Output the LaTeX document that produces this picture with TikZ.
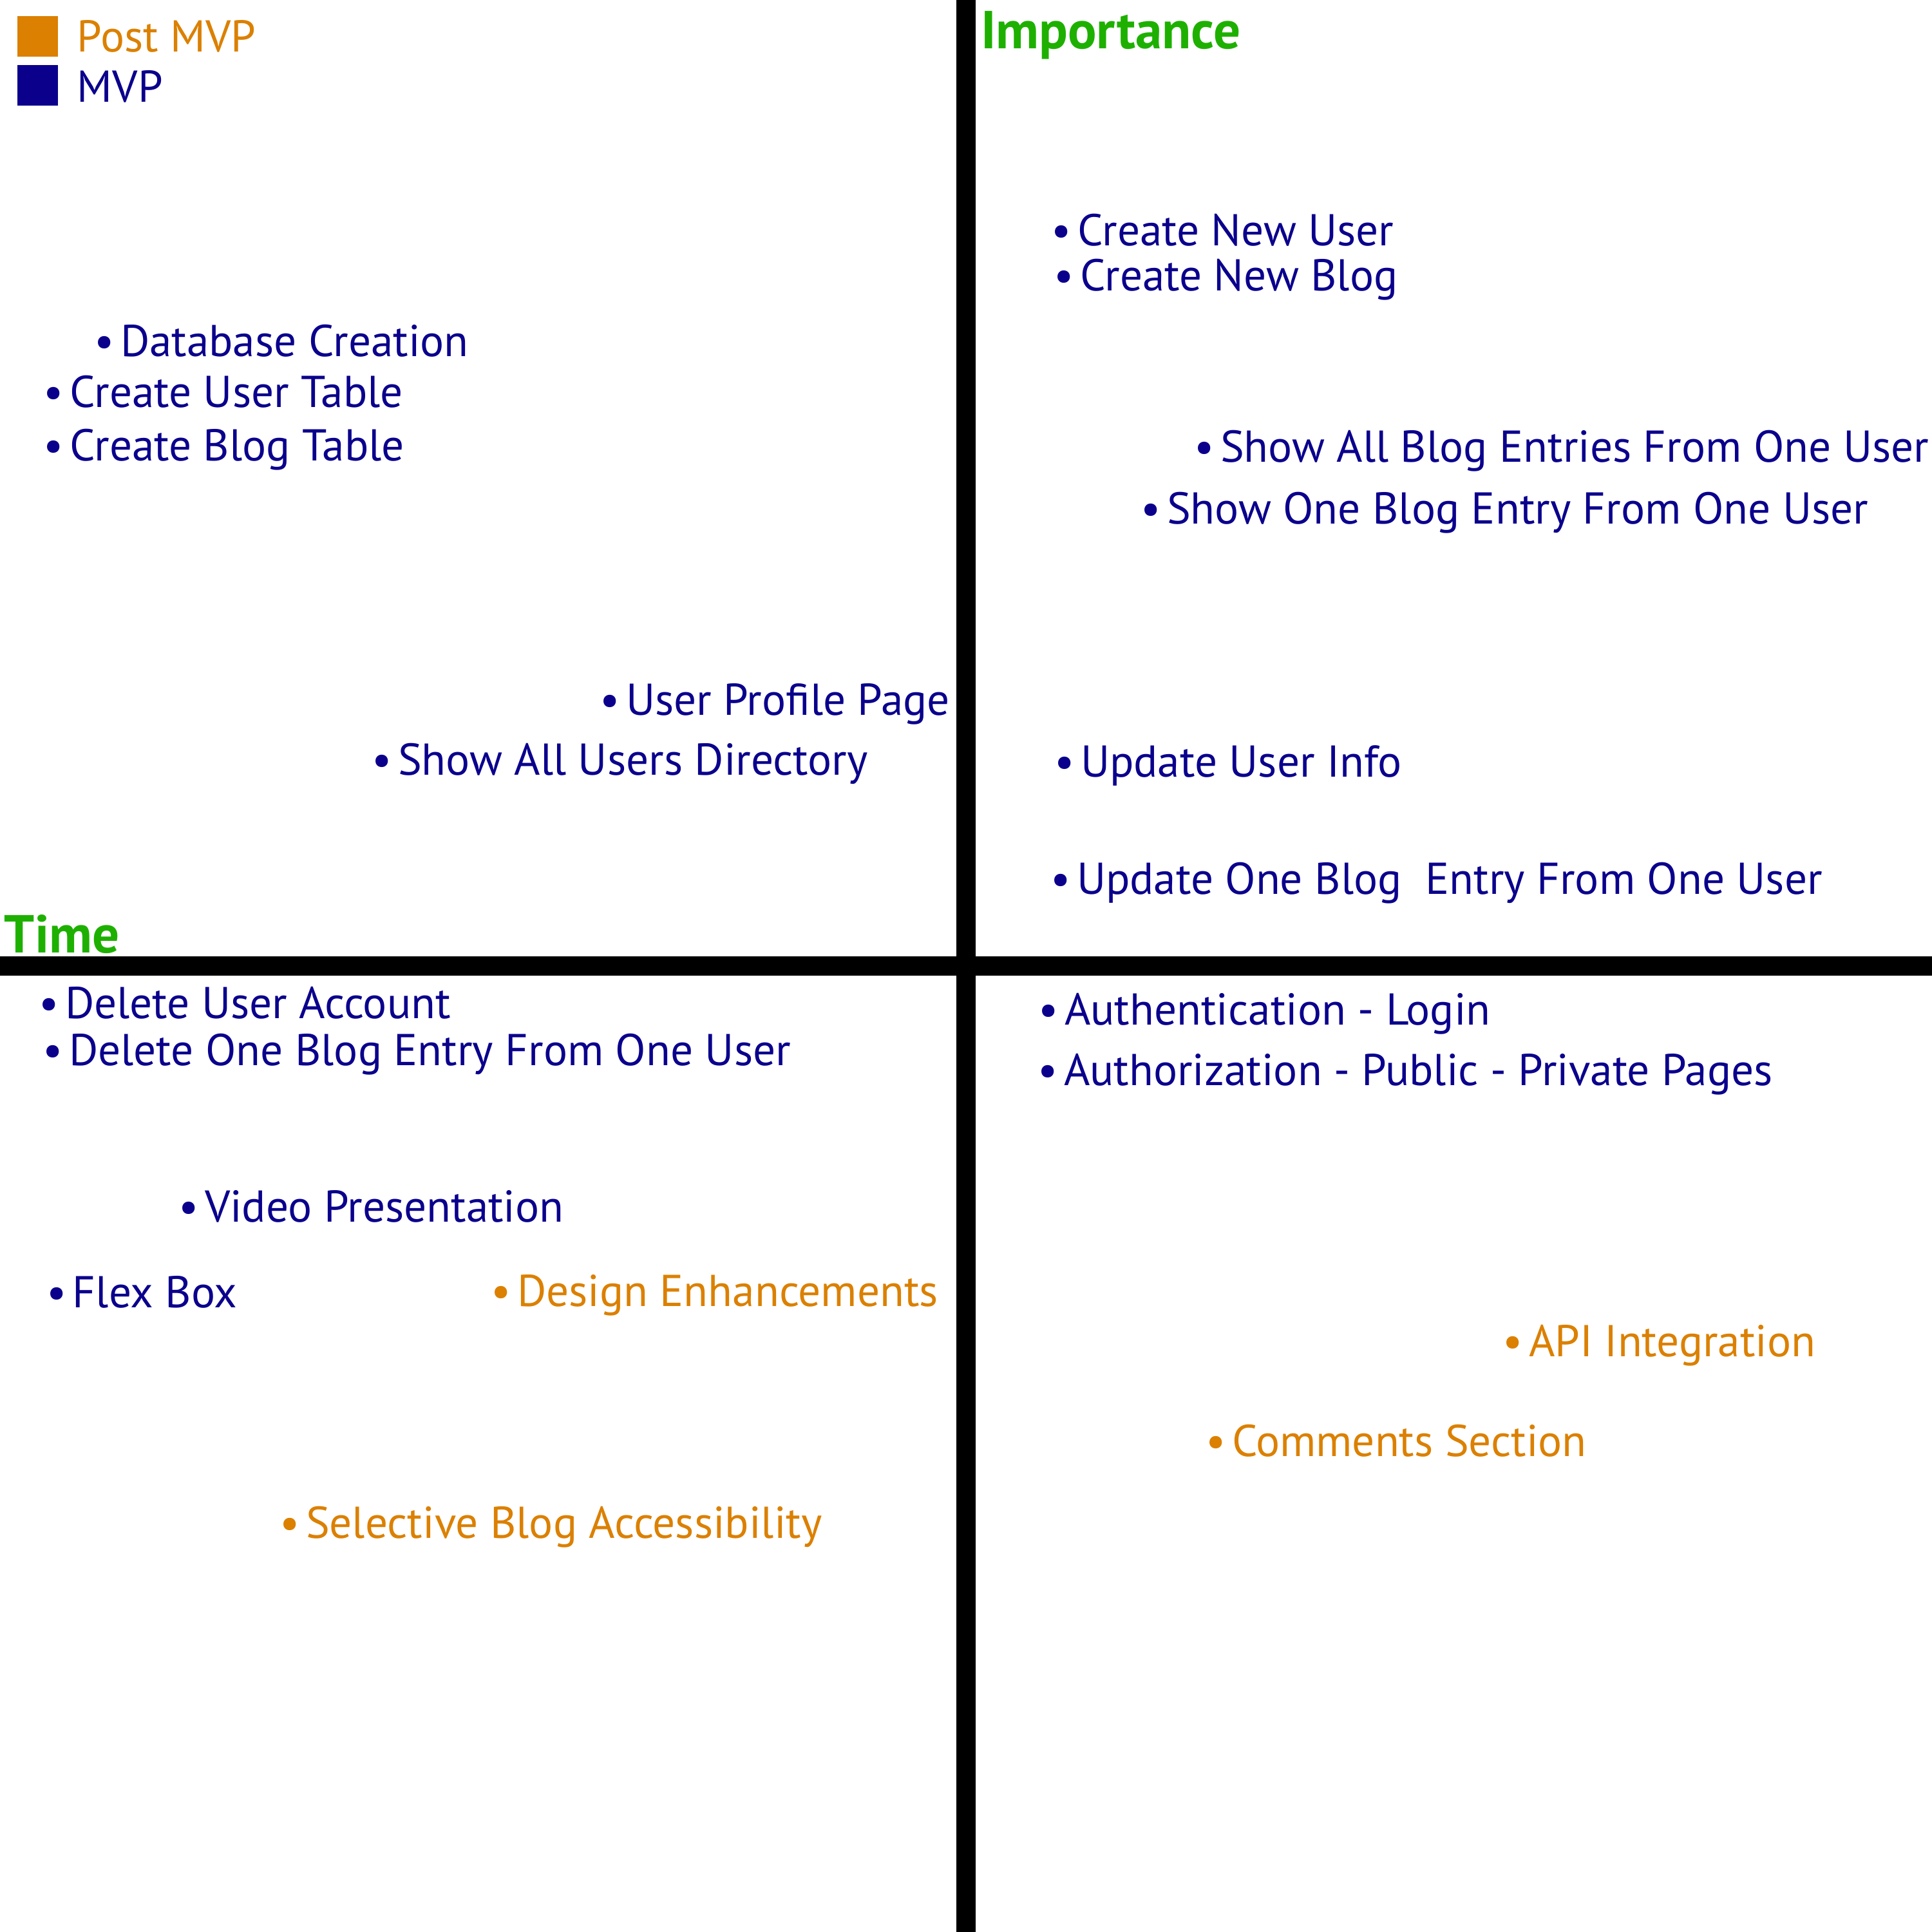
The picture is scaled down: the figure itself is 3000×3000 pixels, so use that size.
\documentclass[tikz,border=0pt]{standalone}
\usepackage{fontspec}
\setmainfont{PT Sans}

\definecolor{mvpblue}{RGB}{10,0,140}
\definecolor{postorange}{RGB}{219,128,0}
\definecolor{axisgreen}{RGB}{30,176,0}

\newcommand{\bulletitem}[1]{\llap{\textbullet\hspace{0.13em}}#1}

\begin{document}
\begin{tikzpicture}[
x=0.01cm, y=-0.01cm,
every node/.style={
anchor=base west,
inner sep=0pt,
outer sep=0pt
},
item/.style={font=\fontsize{19.7}{23}\selectfont},
axis/.style={line width=0.3cm, black}
]

% =====================================================
% Styles
% =====================================================

\tikzstyle{mvp} =
[item,
text=mvpblue]

\tikzstyle{postmvp} =
[item,
text=postorange]

\tikzstyle{heading} =
[text=axisgreen,
font=\fontsize{23.6}{27}\selectfont\bfseries]

\tikzstyle{key} =
[anchor=north west,
minimum size=0.63cm]

\useasboundingbox (0,0) rectangle (3000,3000);

% =====================================================
% Axes
% =====================================================

\draw [axis] (1500,0) -- (1500,3000);

\draw [axis] (0,1500) -- (3000,1500);

% =====================================================
% Legend and headings
% =====================================================

\node (postkey) [key, fill=postorange] at (27,25) {};

\node (mvpkey) [key, fill=mvpblue] at (27,101) {};

\node (postlabel) [postmvp] at (120,81) {Post MVP};

\node (mvplabel) [mvp] at (120,159) {MVP};

\node (importance) [heading] at (1523,76) {Importance};

\node (time) [heading] at (7,1479) {Time};

% =====================================================
% Top left
% =====================================================

\node (dbcreate) [mvp] at (187,553)
{\bulletitem{Database Creation}};

\node (usertable) [mvp] at (108,632)
{\bulletitem{Create User Table}};

\node (blogtable) [mvp] at (108,715)
{\bulletitem{Create Blog Table}};

\node (profile) [mvp] at (972,1110)
{\bulletitem{User Profile Page}};

\node (directory) [mvp] at (618,1203)
{\bulletitem{Show All Users Directory}};

% =====================================================
% Top right
% =====================================================

\node (newuser) [mvp] at (1673,381)
{\bulletitem{Create New User}};

\node (newblog) [mvp] at (1677,451)
{\bulletitem{Create New Blog}};

\node (allentries) [mvp] at (1895,717)
{\bulletitem{Show All Blog Entries From One User}};

\node (oneentry) [mvp] at (1812,813)
{\bulletitem{Show One Blog Entry From One User}};

\node (updateuser) [mvp] at (1678,1206)
{\bulletitem{Update User Info}};

\node (updateentry) [mvp] at (1672,1388)
{\bulletitem{Update One Blog\ \ Entry From One User}};

% =====================================================
% Bottom left
% =====================================================

\node (deleteuser) [mvp] at (101,1581)
{\bulletitem{Delete User Account}};

\node (deleteentry) [mvp] at (107,1654)
{\bulletitem{Delete One Blog Entry From One User}};

\node (video) [mvp] at (318,1897)
{\bulletitem{Video Presentation}};

\node (flexbox) [mvp] at (113,2030)
{\bulletitem{Flex Box}};

\node (design) [postmvp] at (803,2028)
{\bulletitem{Design Enhancements}};

\node (selective) [postmvp] at (475,2388)
{\bulletitem{Selective Blog Accessibility}};

% =====================================================
% Bottom right
% =====================================================

\node (authn) [mvp] at (1653,1591)
{\bulletitem{Authentication - Login}};

\node (authz) [mvp] at (1652,1685)
{\bulletitem{Authorization - Public - Private Pages}};

\node (api) [postmvp] at (2374,2106)
{\bulletitem{API Integration}};

\node (comments) [postmvp] at (1913,2261)
{\bulletitem{Comments Section}};

\end{tikzpicture}
\end{document}
